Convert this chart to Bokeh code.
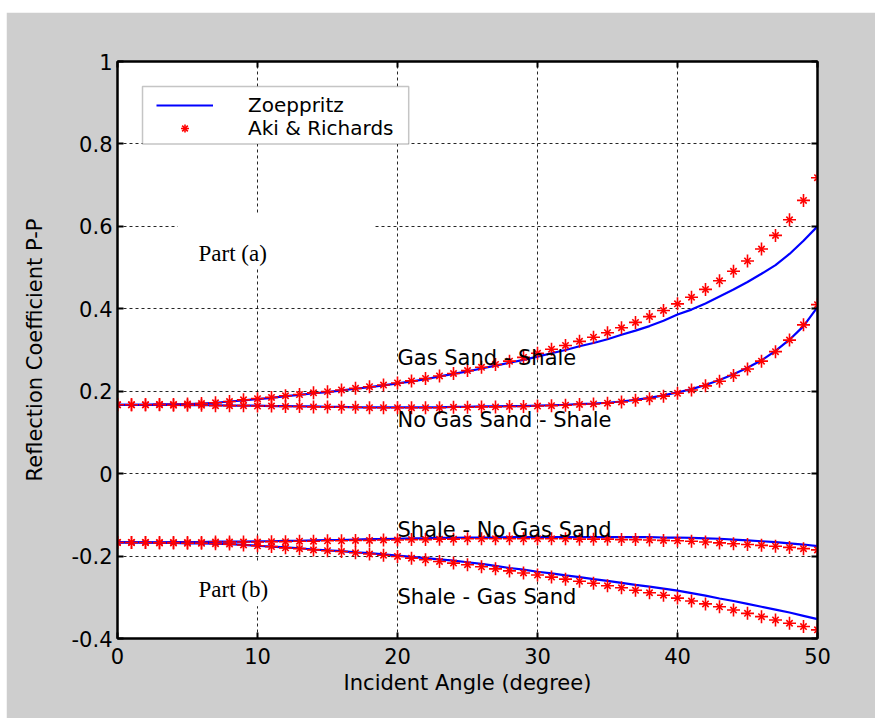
from bokeh.plotting import figure
from bokeh.models import (Range1d, FixedTicker, LinearAxis, Legend, LegendItem,
                          Label, BoxAnnotation, CustomLabelingPolicy)
from bokeh.embed import file_html
from bokeh.resources import INLINE

angle = list(range(0, 51))

gas_zoe = [0.167, 0.167, 0.167, 0.168, 0.168, 0.169, 0.170, 0.172, 0.175, 0.178,
           0.181, 0.184, 0.188, 0.191, 0.195, 0.198, 0.202, 0.206, 0.210, 0.214,
           0.219, 0.224, 0.229, 0.236, 0.242, 0.248, 0.255, 0.262, 0.269, 0.276,
           0.284, 0.292, 0.300, 0.309, 0.317, 0.326, 0.337, 0.347, 0.358, 0.371,
           0.386, 0.398, 0.413, 0.430, 0.447, 0.465, 0.485, 0.506, 0.533, 0.565,
           0.600]
gas_aki = [0.167, 0.167, 0.167, 0.168, 0.168, 0.169, 0.170, 0.172, 0.175, 0.179,
           0.182, 0.185, 0.189, 0.192, 0.196, 0.199, 0.203, 0.207, 0.211, 0.215,
           0.220, 0.225, 0.231, 0.237, 0.243, 0.250, 0.258, 0.265, 0.273, 0.282,
           0.292, 0.302, 0.311, 0.321, 0.331, 0.342, 0.354, 0.367, 0.381, 0.396,
           0.412, 0.428, 0.447, 0.468, 0.491, 0.516, 0.545, 0.578, 0.616, 0.663,
           0.718]
nogas_zoe = [0.167, 0.167, 0.167, 0.167, 0.167, 0.166, 0.166, 0.166, 0.165, 0.165,
             0.165, 0.164, 0.164, 0.163, 0.163, 0.162, 0.162, 0.161, 0.161, 0.161,
             0.161, 0.161, 0.161, 0.161, 0.162, 0.162, 0.163, 0.163, 0.164, 0.164,
             0.165, 0.166, 0.167, 0.169, 0.170, 0.172, 0.175, 0.179, 0.184, 0.190,
             0.197, 0.205, 0.215, 0.227, 0.241, 0.257, 0.275, 0.298, 0.325, 0.358,
             0.404]
nogas_aki = [0.167, 0.167, 0.167, 0.167, 0.166, 0.166, 0.166, 0.165, 0.165, 0.165,
             0.164, 0.164, 0.163, 0.163, 0.162, 0.162, 0.161, 0.161, 0.160, 0.160,
             0.160, 0.160, 0.160, 0.160, 0.161, 0.161, 0.162, 0.162, 0.163, 0.163,
             0.164, 0.165, 0.166, 0.168, 0.169, 0.171, 0.174, 0.178, 0.182, 0.188,
             0.195, 0.203, 0.213, 0.224, 0.238, 0.254, 0.273, 0.296, 0.324, 0.361,
             0.410]
sh_nogas_zoe = [-0.167, -0.167, -0.167, -0.167, -0.166, -0.166, -0.166, -0.165, -0.165, -0.165,
                -0.164, -0.164, -0.163, -0.163, -0.162, -0.161, -0.161, -0.160, -0.159, -0.159,
                -0.158, -0.157, -0.157, -0.156, -0.156, -0.155, -0.155, -0.155, -0.154, -0.154,
                -0.154, -0.154, -0.154, -0.154, -0.154, -0.154, -0.154, -0.154, -0.154, -0.155,
                -0.155, -0.156, -0.157, -0.158, -0.160, -0.162, -0.164, -0.166, -0.169, -0.172,
                -0.176]
sh_nogas_aki = [-0.167, -0.167, -0.167, -0.167, -0.167, -0.167, -0.167, -0.166, -0.166, -0.166,
                -0.166, -0.165, -0.165, -0.164, -0.164, -0.163, -0.163, -0.162, -0.162, -0.161,
                -0.161, -0.160, -0.160, -0.159, -0.159, -0.158, -0.158, -0.158, -0.158, -0.158,
                -0.158, -0.158, -0.158, -0.159, -0.159, -0.159, -0.160, -0.160, -0.161, -0.162,
                -0.163, -0.164, -0.166, -0.168, -0.170, -0.172, -0.174, -0.176, -0.179, -0.182,
                -0.185]
sh_gas_zoe = [-0.167, -0.167, -0.167, -0.168, -0.168, -0.169, -0.169, -0.170, -0.171, -0.173,
              -0.175, -0.177, -0.179, -0.181, -0.184, -0.186, -0.188, -0.191, -0.193, -0.196,
              -0.199, -0.202, -0.205, -0.208, -0.211, -0.215, -0.219, -0.224, -0.229, -0.233,
              -0.238, -0.242, -0.247, -0.251, -0.256, -0.260, -0.265, -0.270, -0.274, -0.279,
              -0.284, -0.290, -0.296, -0.303, -0.309, -0.316, -0.323, -0.330, -0.337, -0.345,
              -0.353]
sh_gas_aki = [-0.167, -0.167, -0.167, -0.168, -0.168, -0.169, -0.169, -0.170, -0.171, -0.173,
              -0.175, -0.177, -0.180, -0.182, -0.185, -0.187, -0.189, -0.192, -0.195, -0.198,
              -0.201, -0.205, -0.209, -0.213, -0.217, -0.221, -0.226, -0.231, -0.236, -0.241,
              -0.246, -0.251, -0.256, -0.261, -0.266, -0.272, -0.277, -0.283, -0.289, -0.295,
              -0.302, -0.309, -0.316, -0.323, -0.331, -0.339, -0.347, -0.355, -0.363, -0.371,
              -0.379]

x_ticks = [0, 10, 20, 30, 40, 50]
y_ticks = [-0.4, -0.2, 0, 0.2, 0.4, 0.6, 0.8, 1]
y_tick_labels = ["-0.4", "-0.2", "0", "0.2", "0.4", "0.6", "0.8", "1"]

curve_names = ["Gas Sand - Shale", "No Gas Sand - Shale",
               "Shale - No Gas Sand", "Shale - Gas Sand"]
curve_label_pos = [(20, 0.2816), (20, 0.130), (20, -0.136), (20, -0.2985)]
part_names = ["Part (a)", "Part (b)"]
part_label_pos = [(5.79, 0.534), (5.79, -0.2816)]
legend_names = ["Zoeppritz", "Aki & Richards"]

SANS = "DejaVu Sans"
FS = "21px"
GRAY = "#cecece"

p = figure(width=869, height=706, output_backend="svg", toolbar_location=None,
           x_range=Range1d(0, 50), y_range=Range1d(-0.4, 1),
           min_border_left=111, min_border_right=58, min_border_top=49,
           min_border_bottom=80)
p.margin = (12, 0, 0, 6)
p.background_fill_color = "white"
p.border_fill_color = GRAY
p.outline_line_color = "black"
p.outline_line_width = 2

for ax in (p.xaxis[0], p.yaxis[0]):
    ax.major_tick_in = 6
    ax.major_tick_out = 0
    ax.minor_tick_in = 0
    ax.minor_tick_out = 0
    ax.axis_line_width = 2
    ax.major_tick_line_width = 2
    ax.major_label_text_font = SANS
    ax.major_label_text_font_size = FS
    ax.major_label_text_color = "black"
    ax.axis_label_text_font = SANS
    ax.axis_label_text_font_size = FS
    ax.axis_label_text_font_style = "normal"
    ax.axis_label_text_color = "black"

p.xaxis[0].ticker = FixedTicker(ticks=x_ticks)
p.yaxis[0].ticker = FixedTicker(ticks=y_ticks)
p.yaxis[0].major_label_overrides = {t: s for t, s in zip(y_ticks, y_tick_labels)}
p.xaxis[0].axis_label = "Incident Angle (degree)"
p.yaxis[0].axis_label = "Reflection Coefficient P-P"
p.xaxis[0].major_label_standoff = 9
p.xaxis[0].axis_label_standoff = 4
p.yaxis[0].major_label_standoff = 5
p.yaxis[0].axis_label_standoff = 22

HIDE = "for (const i of indices) { indices.unset(i) } return indices"
top_ax = LinearAxis(ticker=FixedTicker(ticks=x_ticks),
                    major_label_policy=CustomLabelingPolicy(code=HIDE))
right_ax = LinearAxis(ticker=FixedTicker(ticks=y_ticks),
                      major_label_policy=CustomLabelingPolicy(code=HIDE))
for ax in (top_ax, right_ax):
    ax.major_tick_in = 6
    ax.major_tick_out = 0
    ax.minor_tick_in = 0
    ax.minor_tick_out = 0
    ax.axis_line_width = 2
    ax.major_tick_line_width = 2
    ax.major_label_standoff = 0
p.add_layout(top_ax, "above")
p.add_layout(right_ax, "right")

for g in (p.xgrid[0], p.ygrid[0]):
    g.grid_line_color = "black"
    g.grid_line_alpha = 0.85
    g.grid_line_dash = "3 3"
    g.grid_line_width = 1
p.xgrid[0].ticker = FixedTicker(ticks=x_ticks)
p.ygrid[0].ticker = FixedTicker(ticks=y_ticks)

# white boxes behind the "Part" labels
p.add_layout(BoxAnnotation(left=4.3, right=18.4, top=0.63, bottom=0.497,
                           fill_color="white", fill_alpha=1, line_color=None))
p.add_layout(BoxAnnotation(left=4.3, right=16.6, top=-0.214, bottom=-0.322,
                           fill_color="white", fill_alpha=1, line_color=None))

zoe_series = [gas_zoe, nogas_zoe, sh_nogas_zoe, sh_gas_zoe]
aki_series = [gas_aki, nogas_aki, sh_nogas_aki, sh_gas_aki]
line_rs, star_rs = [], []
for z, a in zip(zoe_series, aki_series):
    lr = p.line(angle, z, line_color="#0000ff", line_width=2.2)
    s1 = p.scatter(angle, a, marker="cross", size=13, line_color="#ff0000",
                   line_width=1.6)
    s2 = p.scatter(angle, a, marker="x", size=9, line_color="#ff0000",
                   line_width=1.6)
    line_rs.append(lr)
    star_rs.append([s1, s2])

for name, (lx, ly) in zip(curve_names, curve_label_pos):
    p.add_layout(Label(x=lx, y=ly, text=name, text_font=SANS, text_font_size=FS,
                       text_color="black", text_baseline="alphabetic"))
for name, (lx, ly) in zip(part_names, part_label_pos):
    p.add_layout(Label(x=lx, y=ly, text=name, text_font="Liberation Serif",
                       text_font_size="23px", text_color="black",
                       text_baseline="alphabetic"))

# legend frame
p.add_layout(BoxAnnotation(left=1.786, right=20.8, top=0.9393, bottom=0.8,
                           fill_color="white", fill_alpha=1,
                           line_color="#404040", line_width=1.5))

def make_legend(label, renderers, loc):
    lg = Legend(items=[LegendItem(label=label, renderers=renderers)], location=loc)
    lg.label_text_font = SANS
    lg.label_text_font_size = "20px"
    lg.label_text_color = "black"
    lg.label_standoff = 35
    lg.glyph_width = 57
    lg.glyph_height = 20
    lg.label_height = 20
    lg.spacing = 0
    lg.padding = 0
    lg.margin = 0
    lg.border_line_color = None
    lg.background_fill_alpha = 0
    return lg

p.add_layout(make_legend(legend_names[0], [line_rs[0]], (39, 521)), "center")
p.add_layout(make_legend(legend_names[1], star_rs[0], (39, 498)), "center")

open("out.html", "w").write(file_html(p, INLINE))
